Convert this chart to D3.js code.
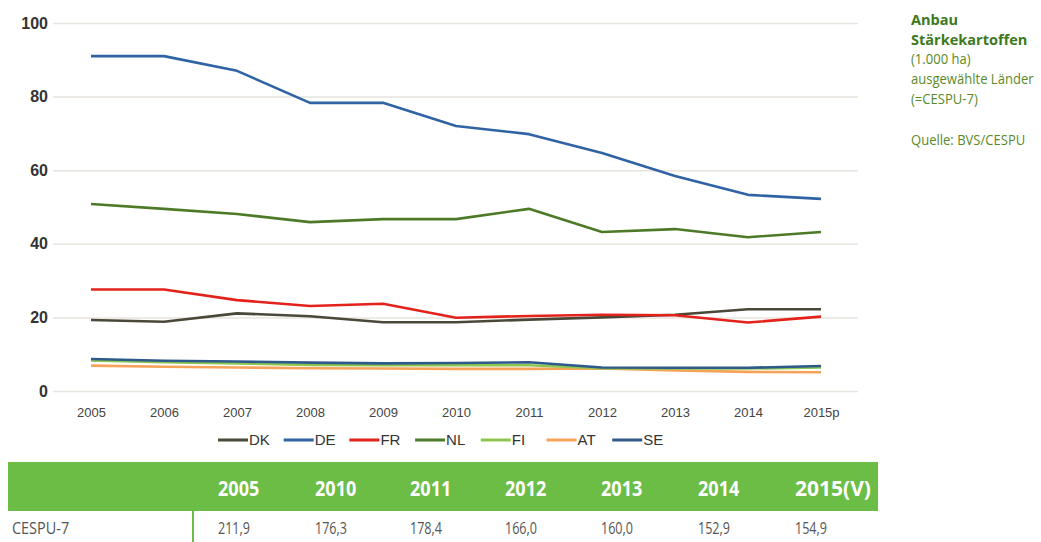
<!DOCTYPE html>
<html>
<head>
<meta charset="utf-8">
<script src="https://cdn.jsdelivr.net/npm/d3@7"></script>
<style>
  body { margin: 0; background: #fff; }
  svg { display: block; }
</style>
</head>
<body>
<div id="chart"></div>
<script>
const years = ['2005', '2006', '2007', '2008', '2009', '2010', '2011', '2012', '2013', '2014', '2015p']
const countries = ['DK', 'DE', 'FR', 'NL', 'FI', 'AT', 'SE']
const dk = [19.3, 18.8, 21.1, 20.3, 18.7, 18.7, 19.4, 20.0, 20.7, 22.2, 22.2]
const de = [91.0, 91.0, 87.0, 78.3, 78.3, 72.0, 69.8, 64.7, 58.4, 53.3, 52.2]
const fr = [27.6, 27.6, 24.7, 23.1, 23.7, 19.9, 20.4, 20.7, 20.6, 18.6, 20.2]
const nl = [50.8, 49.5, 48.1, 45.9, 46.7, 46.7, 49.5, 43.2, 44.0, 41.8, 43.2]
const fi = [8.3, 7.8, 7.5, 7.1, 7.0, 7.0, 7.0, 6.2, 6.1, 6.1, 6.4]
const at = [6.9, 6.6, 6.4, 6.2, 6.1, 6.0, 6.0, 6.1, 5.6, 5.2, 5.1]
const se = [8.7, 8.2, 8.0, 7.7, 7.5, 7.6, 7.8, 6.4, 6.3, 6.3, 6.8]
const yTicks = [0, 20, 40, 60, 80, 100]

const tableHead = ['2005', '2010', '2011', '2012', '2013', '2014', '2015(V)']
const tableRowLabel = 'CESPU-7'
const tableValues = ['211,9', '176,3', '178,4', '166,0', '160,0', '152,9', '154,9']

const colors = ['#4a4838', '#2f63a3', '#e3231b', '#4d7a27', '#8cc64f', '#f7a259', '#2d5a8a']
const seriesData = [dk, de, fr, nl, fi, at, se]
// draw order: bottom ones first so the darker blue sits on top like in the print
const drawOrder = [5, 4, 6, 0, 2, 3, 1]

const width = 1041
const height = 542

const svg = d3.select('#chart').append('svg')
  .attr('width', width)
  .attr('height', height)

const x = d3.scalePoint().domain(years).range([91, 821])
const y = d3.scaleLinear().domain([0, 100]).range([391, 23])

// gridlines + y labels
const yAxis = svg.append('g')
  .attr('transform', 'translate(53,0)')
  .call(d3.axisLeft(y).tickValues(yTicks).tickSize(-805).tickPadding(5))
yAxis.select('.domain').remove()
yAxis.selectAll('.tick line').attr('stroke', '#e8e4de').attr('stroke-width', 1.5)
yAxis.selectAll('.tick text')
  .attr('fill', '#333')
  .style('font', 'bold 16px "Liberation Sans", Arial, sans-serif')

// x labels
const xAxis = svg.append('g')
  .attr('transform', 'translate(0,391)')
  .call(d3.axisBottom(x).tickSize(0).tickPadding(17))
xAxis.select('.domain').remove()
xAxis.selectAll('.tick text')
  .attr('fill', '#444')
  .style('font', '13px "Liberation Sans", Arial, sans-serif')

const line = d3.line()
  .x((d, i) => x(years[i]))
  .y(d => y(d))

svg.append('g').selectAll('path')
  .data(drawOrder)
  .join('path')
  .attr('d', k => line(seriesData[k]))
  .attr('fill', 'none')
  .attr('stroke', k => colors[k])
  .attr('stroke-width', 2.6)
  .attr('stroke-linejoin', 'round')

// legend
const legend = svg.append('g').attr('transform', 'translate(218,440)')
const item = legend.selectAll('g')
  .data(countries)
  .join('g')
  .attr('transform', (d, i) => `translate(${i * 65.7},0)`)
item.append('line')
  .attr('x1', 0).attr('x2', 30)
  .attr('stroke', (d, i) => colors[i])
  .attr('stroke-width', 3)
item.append('text')
  .attr('x', 31)
  .attr('dy', '0.36em')
  .attr('fill', '#333')
  .style('font', '15px "Liberation Sans", Arial, sans-serif')
  .text(d => d)

// condensed look: squeeze Open Sans horizontally
const condFont = '"Open Sans", sans-serif'
const narrow = (sel, px, py, sx) => sel.append('g')
  .attr('transform', `translate(${px},${py}) scale(${sx},1)`)
  .append('text')

// side note
const noteLines = [
  { t: 'Anbau', y: 25, bold: true },
  { t: 'Stärkekartoffen', y: 45, bold: true },
  { t: '(1.000 ha)', y: 64 },
  { t: 'ausgewählte Länder', y: 84 },
  { t: '(=CESPU-7)', y: 104 },
  { t: 'Quelle: BVS/CESPU', y: 145 }
]
noteLines.forEach(d => {
  narrow(svg, 911, d.y, d.bold ? 0.97 : 0.87)
    .attr('fill', d.bold ? '#3c7a1c' : '#5b8a2a')
    .style('font-family', condFont)
    .style('font-size', '15px')
    .style('font-weight', d.bold ? 'bold' : 'normal')
    .text(d.t)
})

// table
const tableX = [218, 315, 410, 505, 601, 698, 795]
svg.append('rect')
  .attr('x', 8).attr('y', 462)
  .attr('width', 870).attr('height', 49)
  .attr('fill', '#6cbd45')
tableHead.forEach((d, i) => {
  narrow(svg, tableX[i], 496, d.length > 4 ? 1.0 : 0.86)
    .attr('fill', '#fff')
    .style('font', `bold 21px ${condFont}`)
    .text(d)
})
svg.append('line')
  .attr('x1', 193).attr('x2', 193)
  .attr('y1', 511).attr('y2', 542)
  .attr('stroke', '#6cbd45').attr('stroke-width', 2)
narrow(svg, 12, 534, 0.85)
  .attr('fill', '#555')
  .style('font', `17px ${condFont}`)
  .text(tableRowLabel)
tableValues.forEach((d, i) => {
  narrow(svg, tableX[i], 534, 0.74)
    .attr('fill', '#555')
    .style('font', `17px ${condFont}`)
    .text(d)
})
</script>
</body>
</html>
